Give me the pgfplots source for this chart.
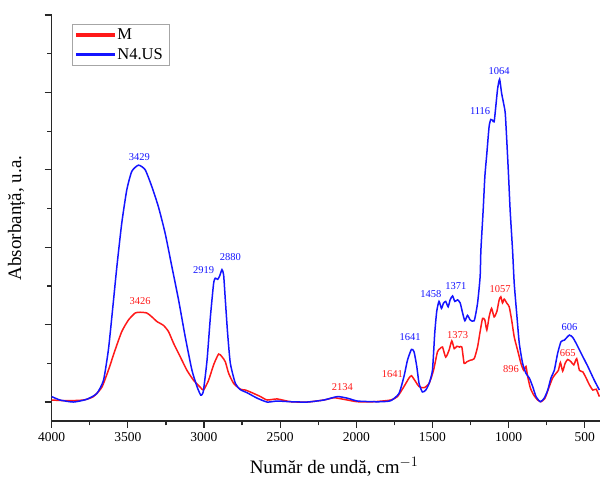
\documentclass[border=0pt]{standalone}
\usepackage{pgfplots}
\pgfplotsset{compat=1.18}
\usepackage{fontspec}
\setmainfont{Liberation Serif}
\definecolor{cred}{RGB}{255,25,25}
\definecolor{cblue}{RGB}{20,20,255}
\definecolor{axgray}{RGB}{40,40,40}
\begin{document}
\begin{tikzpicture}
\path[use as bounding box] (-51.7pt,-58pt) rectangle (548.3pt,421pt);
\begin{axis}[
  at={(0pt,0pt)}, anchor=south west,
  scale only axis, width=548.3pt, height=406pt,
  x dir=reverse, xmin=400, xmax=4000, ymin=-0.245, ymax=5,
  axis lines=left, axis line style={-, line width=1.3pt, axgray},
  tick align=outside, major tick length=7pt, minor tick length=4.5pt,
  every tick/.style={line width=1.2pt, axgray},
  xtick={500,1000,...,4000}, minor x tick num=1,
  ytick={0,1,2,3,4,5}, minor y tick num=1, yticklabels={},
  /pgf/number format/assume math mode=true,
  /pgf/number format/1000 sep={},
  tick label style={font=\fontsize{13.5}{15}\selectfont},
  xticklabel style={yshift=-1pt},
  xlabel={Număr de undă, cm$^{-1}$},
  ylabel={Absorbanță, u.a.},
  label style={font=\fontsize{19}{22}\selectfont},
  x label style={at={(axis description cs:0.515,-0.113)}, anchor=center},
  y label style={at={(axis description cs:-0.064,0.5)}, anchor=center},
  clip=false,
  legend cell align=left,
  legend style={at={(rel axis cs:0.0365,0.978)}, anchor=north west, draw=gray!70,
     font=\fontsize{16.5}{18}\selectfont, inner xsep=4pt, inner ysep=1pt,
     nodes={minimum height=19.6pt, inner ysep=0pt}},
  legend image code/.code={\fill[#1] (0pt,-0.85pt) rectangle (38pt,0.85pt);},
]
\addplot[cred, line width=1.5pt, smooth, tension=0.35] coordinates {
(4000,0.026)(3901,0.017)(3792,0.026)(3726,0.07)(3671,0.19)(3628,0.41)(3584,0.67)(3540,0.91)
(3496,1.06)(3452,1.15)(3419,1.16)(3375,1.15)(3342,1.10)(3309,1.04)(3266,0.99)(3233,0.91)
(3200,0.76)(3156,0.585)(3112,0.41)(3068,0.28)(3024,0.19)(3003,0.155)(2970,0.28)(2937,0.48)
(2904,0.62)(2882,0.585)(2860,0.52)(2838,0.37)(2805,0.24)(2761,0.165)(2728,0.155)(2684,0.12)
(2629,0.07)(2585,0.026)(2520,0.04)(2432,0.004)(2322,0.0)(2213,0.026)(2147,0.055)(2082,0.035)
(1993,0.004)(1884,0.004)(1774,0.026)(1730,0.07)(1687,0.20)(1654,0.31)(1638,0.34)(1616,0.28)
(1588,0.20)(1555,0.185)(1522,0.24)(1493,0.41)(1467,0.65)(1450,0.69)(1434,0.71)(1413,0.58)
(1391,0.67)(1373,0.79)(1357,0.69)(1340,0.72)(1322,0.71)(1307,0.71)(1292,0.50)(1274,0.52)
(1252,0.54)(1226,0.56)(1204,0.71)(1187,0.91)(1171,1.08)(1156,1.06)(1143,0.93)(1128,1.10)
(1112,1.21)(1095,1.10)(1077,1.17)(1062,1.32)(1051,1.36)(1040,1.28)(1029,1.33)(1011,1.275)
(996,1.23)(980,1.06)(963,0.84)(941,0.67)(919,0.50)(901,0.41)(886,0.46)(875,0.33)
(857,0.18)(835,0.09)(809,0.026)(787,0.004)(761,0.05)(733,0.20)(711,0.31)(689,0.37)
(673,0.41)(660,0.51)(645,0.40)(629,0.50)(612,0.55)(590,0.52)(572,0.48)(553,0.56)
(535,0.41)(513,0.39)(491,0.31)(469,0.22)(447,0.155)(425,0.165)(404,0.07)
};
\addlegendentry{M}
\addplot[cblue, line width=1.5pt, smooth, tension=0.35] coordinates {
(4000,0.07)(3945,0.026)(3858,0.0)(3770,0.035)(3704,0.11)(3660,0.28)(3628,0.67)(3605,1.10)
(3572,1.75)(3540,2.31)(3507,2.74)(3474,2.98)(3430,3.06)(3386,3.00)(3342,2.78)(3299,2.52)
(3255,2.18)(3211,1.75)(3167,1.32)(3123,0.84)(3079,0.41)(3046,0.20)(3022,0.09)(3012,0.10)
(3003,0.155)(2980,0.54)(2958,1.10)(2937,1.53)(2926,1.60)(2910,1.585)(2897,1.63)(2882,1.71)
(2871,1.64)(2860,1.32)(2845,0.89)(2827,0.50)(2794,0.24)(2761,0.16)(2717,0.12)(2651,0.05)
(2585,0.0)(2520,0.013)(2432,0.004)(2322,0.0)(2213,0.026)(2125,0.07)(2059,0.05)(1993,0.013)
(1884,0.004)(1840,0.004)(1774,0.017)(1720,0.11)(1687,0.33)(1664,0.54)(1638,0.68)(1621,0.65)
(1603,0.46)(1588,0.24)(1566,0.13)(1544,0.155)(1522,0.24)(1500,0.41)(1485,0.89)(1472,1.17)
(1457,1.30)(1441,1.21)(1428,1.275)(1413,1.30)(1397,1.23)(1384,1.32)(1368,1.37)(1353,1.30)
(1335,1.32)(1318,1.28)(1302,1.15)(1287,1.05)(1270,1.12)(1252,1.06)(1226,1.05)(1204,1.275)
(1187,1.62)(1182,1.96)(1167,2.48)(1156,2.91)(1143,3.21)(1128,3.56)(1117,3.65)(1106,3.64)
(1095,3.62)(1084,3.82)(1072,4.05)(1059,4.17)(1046,3.99)(1033,3.86)(1022,3.73)(1011,3.34)
(1000,2.91)(990,2.48)(974,1.96)(963,1.53)(945,1.10)(930,0.76)(908,0.50)(886,0.37)
(864,0.31)(842,0.20)(820,0.07)(792,0.004)(766,0.05)(743,0.155)(722,0.31)(700,0.41)
(678,0.63)(656,0.78)(634,0.80)(601,0.865)(579,0.835)(557,0.76)(524,0.63)(480,0.46)
(437,0.28)(404,0.155)
};
\addlegendentry{N4.US}
\begin{scope}[every node/.style={font=\fontsize{10.5}{12}\selectfont, inner sep=0pt}]
\node[text=cblue] at (axis cs:3425,3.17) {3429};
\node[text=cblue] at (axis cs:3003,1.71) {2919};
\node[text=cblue] at (axis cs:2827,1.87) {2880};
\node[text=cblue] at (axis cs:1187,3.76) {1116};
\node[text=cblue] at (axis cs:1062,4.28) {1064};
\node[text=cblue] at (axis cs:1511,1.40) {1458};
\node[text=cblue] at (axis cs:1347,1.50) {1371};
\node[text=cblue] at (axis cs:1647,0.84) {1641};
\node[text=cblue] at (axis cs:601,0.965) {606};
\node[text=cred] at (axis cs:3419,1.30) {3426};
\node[text=cred] at (axis cs:2092,0.19) {2134};
\node[text=cred] at (axis cs:1763,0.36) {1641};
\node[text=cred] at (axis cs:1335,0.87) {1373};
\node[text=cred] at (axis cs:1055,1.46) {1057};
\node[text=cred] at (axis cs:985,0.43) {896};
\node[text=cred] at (axis cs:612,0.63) {665};
\end{scope}
\end{axis}
\end{tikzpicture}
\end{document}
